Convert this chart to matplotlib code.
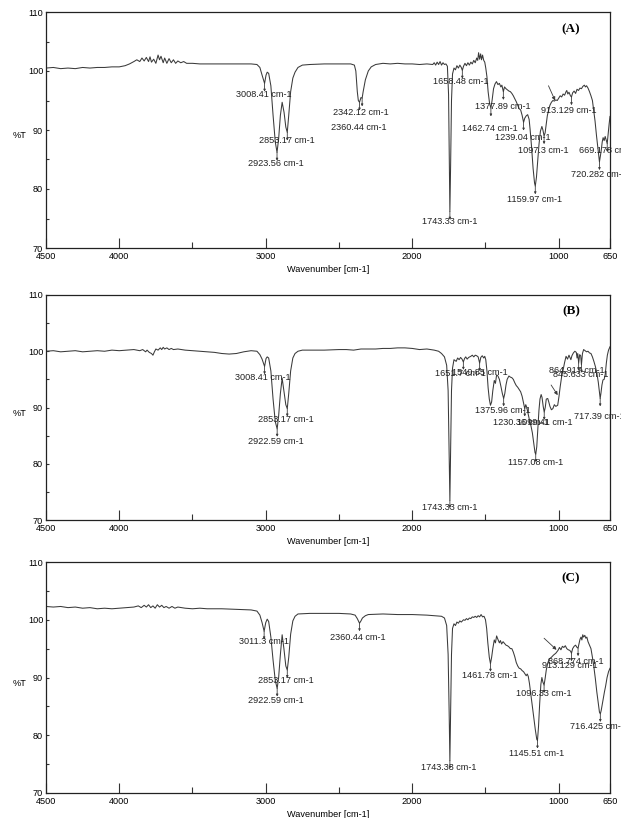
import matplotlib
matplotlib.use("Agg")
import matplotlib.pyplot as plt
from matplotlib.ticker import FixedLocator

# ---------------- data ----------------
wn_A = [4500,4450,4400,4350,4300,4250,4200,4150,4100,4050,4000,3960,3930,3900,3880,3860,3845,3830,3815,3800,
        3790,3780,3765,3750,3735,3725,3715,3700,3690,3675,3660,3645,3630,3615,3600,3580,3560,3540,3500,3450,
        3400,3300,3200,3100,3060,3040,3025,3008,2998,2990,2980,2965,2950,2935,2923,2912,2900,2888,2875,2863,
        2853,2843,2830,2815,2800,2780,2750,2700,2600,2500,2420,2395,2385,2375,2368,2360,2350,2342,2335,2320,
        2300,2280,2250,2200,2150,2100,2050,2000,1950,1900,1860,1850,1840,1830,1820,1810,1800,1790,1780,1770,
        1760,1752,1746,1743,1738,1732,1725,1715,1705,1695,1685,1675,1665,1658,1650,1640,1630,1620,1610,1600,
        1590,1580,1570,1560,1553,1547,1540,1533,1527,1520,1512,1505,1498,1490,1482,1472,1463,1455,1445,1435,
        1425,1415,1405,1395,1388,1378,1370,1360,1350,1340,1330,1320,1310,1300,1290,1280,1270,1260,1250,1240,
        1232,1222,1212,1202,1195,1185,1175,1165,1160,1152,1143,1135,1125,1115,1108,1100,1093,1085,1078,1070,
        1060,1050,1040,1030,1020,1010,1000,990,980,970,960,950,945,938,930,920,913,905,895,885,
        875,865,855,845,835,825,818,810,800,790,780,770,762,752,742,733,727,722,716,710,
        703,697,690,683,676,669,662,656,650]
T_A = [100.5,100.6,100.4,100.5,100.4,100.6,100.5,100.6,100.6,100.7,100.7,100.9,101.2,101.6,101.9,101.6,102.2,101.7,102.3,101.6,
       102.4,101.5,102.0,101.3,102.7,101.9,102.5,101.4,102.2,101.3,102.1,101.4,101.9,101.3,101.7,101.4,101.6,101.3,101.3,101.2,
       101.2,101.2,101.2,101.2,101.1,100.6,99.3,97.9,99.3,99.8,99.6,97.5,92.5,88.0,86.2,88.5,92.5,94.7,93.0,90.5,
       89.6,92.5,96.5,98.8,99.8,100.6,101.0,101.1,101.2,101.2,101.2,101.0,100.0,96.5,95.0,94.7,95.5,95.4,96.5,98.5,
       100.0,100.7,101.1,101.3,101.2,101.3,101.2,101.2,101.1,101.2,101.1,101.4,101.0,101.5,101.1,101.6,101.0,101.4,101.1,101.2,
       100.8,96.0,82.0,76.2,84.0,95.0,99.5,100.5,100.2,100.9,100.5,101.0,100.6,100.1,100.8,101.3,100.9,101.4,101.0,101.5,
       101.2,101.8,101.4,102.2,101.8,103.1,102.0,102.9,101.9,102.7,101.8,101.5,100.5,99.0,96.5,94.5,93.7,95.0,97.0,97.8,
       98.2,97.7,97.9,97.3,97.6,96.5,97.3,97.0,96.8,96.6,96.5,96.2,95.8,95.3,94.8,94.2,93.6,93.4,92.5,91.3,
       92.0,92.4,92.6,91.8,90.0,87.0,83.5,81.0,80.5,82.0,85.0,87.5,89.8,90.6,90.0,89.0,89.5,91.0,92.4,93.3,
       94.2,94.7,95.0,94.9,95.1,95.0,95.4,95.8,95.6,96.1,95.9,96.5,96.7,96.1,96.4,95.8,95.6,96.3,96.6,96.2,
       96.9,96.7,97.1,97.0,97.4,97.6,97.3,97.5,97.1,96.5,95.8,95.0,93.5,91.5,89.0,87.0,85.5,84.6,85.5,86.5,
       88.0,88.7,88.2,88.9,88.3,87.7,89.5,91.0,92.3]

wn_B = [4500,4450,4400,4350,4300,4250,4200,4150,4100,4050,4000,3950,3900,3860,3840,3820,3810,3795,3780,3770,
        3760,3750,3735,3720,3710,3700,3690,3675,3660,3645,3630,3600,3550,3500,3450,3400,3350,3300,3250,3200,
        3150,3100,3060,3040,3025,3008,2998,2990,2980,2965,2950,2935,2922,2912,2900,2888,2876,2863,2853,2843,
        2830,2815,2800,2780,2750,2700,2600,2500,2450,2400,2350,2300,2250,2200,2150,2100,2050,2000,1950,1900,
        1850,1820,1800,1780,1765,1755,1748,1743,1738,1732,1725,1715,1700,1690,1680,1670,1660,1651,1643,1635,
        1625,1615,1600,1590,1580,1570,1560,1550,1540,1532,1522,1512,1505,1498,1490,1482,1474,1466,1458,1450,
        1440,1432,1424,1415,1405,1395,1385,1376,1368,1360,1352,1340,1330,1320,1310,1300,1290,1280,1270,1260,
        1250,1240,1232,1225,1218,1210,1200,1190,1180,1170,1162,1157,1150,1143,1135,1128,1120,1114,1106,1099,
        1092,1085,1075,1068,1060,1050,1040,1030,1020,1007,998,990,980,970,960,950,940,930,917,910,
        900,890,880,875,870,864,857,850,845,838,830,820,810,800,790,780,770,760,750,740,
        730,722,717,712,705,698,690,682,675,668,660,650]
T_B = [100.0,100.1,99.9,100.0,100.1,99.9,100.0,100.1,100.0,100.2,100.1,100.2,100.3,100.1,100.3,99.9,100.2,99.8,99.6,99.3,
       99.9,100.4,100.2,100.6,100.3,100.7,100.4,100.6,100.3,100.5,100.3,100.4,100.2,100.1,100.0,99.9,99.8,99.6,99.5,99.6,
       99.9,100.1,100.0,99.4,98.6,97.3,98.7,99.0,98.8,96.5,91.5,87.5,86.2,88.5,92.5,95.2,93.0,90.5,89.8,92.5,
       96.5,98.8,99.6,100.0,100.2,100.2,100.2,100.3,100.3,100.2,100.4,100.4,100.4,100.5,100.5,100.6,100.6,100.5,100.3,100.4,
       100.2,100.0,99.6,99.0,97.5,93.0,82.0,73.5,82.0,93.0,97.0,98.5,98.2,98.8,98.5,98.9,98.6,98.1,98.7,99.0,
       98.6,98.9,99.1,99.3,99.0,99.3,99.2,99.0,97.9,98.9,99.2,98.8,99.1,98.5,96.5,93.5,91.5,90.4,91.0,93.0,
       94.8,94.3,95.8,95.6,95.0,93.8,92.5,91.6,92.5,94.0,95.0,95.6,95.4,95.3,95.0,94.4,93.9,93.6,93.2,92.8,
       92.0,90.8,89.8,90.5,90.0,89.0,87.8,86.8,85.5,83.5,82.0,81.7,83.0,86.0,89.5,91.5,92.3,91.8,90.2,89.2,
       90.0,91.5,91.6,91.0,90.2,89.6,89.8,90.5,90.2,90.4,92.0,93.7,95.5,96.7,98.0,99.1,98.6,99.3,98.5,99.2,
       99.7,100.0,99.8,98.8,99.6,97.9,99.4,99.2,97.6,99.6,100.3,100.1,99.9,100.0,99.7,99.6,99.0,98.2,97.3,96.2,
       94.5,92.8,91.6,92.5,94.0,94.9,95.0,96.0,97.9,99.3,100.2,100.8]

wn_C = [4500,4450,4400,4350,4300,4250,4200,4150,4100,4050,4000,3950,3900,3870,3850,3830,3815,3800,3785,3770,
        3755,3740,3725,3710,3695,3680,3660,3640,3620,3600,3550,3500,3450,3400,3300,3200,3100,3060,3040,3025,
        3011,3000,2990,2980,2965,2950,2935,2922,2912,2900,2888,2876,2863,2853,2843,2830,2815,2800,2780,2700,
        2600,2500,2420,2390,2375,2360,2350,2340,2320,2300,2200,2100,2000,1900,1850,1800,1780,1765,1755,1748,
        1743,1738,1732,1725,1715,1705,1695,1685,1675,1665,1650,1640,1630,1620,1610,1600,1590,1580,1570,1560,
        1550,1540,1530,1520,1510,1500,1492,1484,1474,1466,1458,1450,1440,1432,1424,1415,1405,1398,1390,1380,
        1370,1360,1350,1340,1330,1320,1310,1300,1290,1280,1270,1260,1250,1240,1230,1222,1215,1208,1200,1190,
        1180,1170,1160,1150,1145,1138,1130,1122,1115,1108,1100,1093,1085,1075,1065,1050,1035,1020,1005,995,
        985,975,965,955,945,935,925,918,913,905,895,885,875,868,862,855,848,842,836,830,
        822,815,808,800,790,780,770,760,750,740,730,722,716,710,702,695,688,680,670,660,
        650]
T_C = [102.3,102.2,102.3,102.1,102.2,102.0,102.1,101.9,102.0,101.9,102.0,102.1,102.2,102.4,102.1,102.5,102.2,102.6,102.1,102.4,
       102.0,102.6,102.2,102.5,102.1,102.3,102.0,102.3,102.0,102.2,102.0,101.9,102.0,101.9,101.9,101.8,101.7,101.5,100.8,99.5,
       98.0,99.5,100.1,99.7,97.0,93.0,89.5,88.1,90.0,94.0,97.4,95.0,92.0,91.3,93.5,97.5,99.8,100.6,101.0,101.1,
       101.1,101.1,101.0,100.8,100.2,99.4,99.8,100.3,100.7,100.9,101.0,100.9,100.9,100.8,100.7,100.6,100.3,99.0,94.0,84.0,
       75.6,84.0,94.0,98.5,99.3,99.0,99.6,99.4,99.8,99.6,100.0,99.9,100.2,100.0,100.3,100.2,100.5,100.4,100.6,100.4,
       100.7,100.5,100.9,100.5,100.6,100.0,98.5,96.0,93.5,92.4,93.5,95.0,96.5,96.0,97.2,96.6,96.0,96.4,95.8,96.2,
       95.9,95.6,95.5,95.3,95.0,95.0,94.4,93.6,92.6,92.0,91.6,91.5,91.2,91.0,90.6,90.3,90.6,90.2,89.0,87.0,
       85.0,83.0,81.0,79.3,79.1,81.5,85.5,88.8,90.0,89.2,88.7,89.8,91.3,92.5,93.2,93.5,93.9,94.2,94.7,95.2,
       94.8,95.4,95.2,95.5,95.0,94.8,94.7,94.5,94.2,95.0,95.4,95.6,95.2,95.1,95.8,96.6,97.0,96.5,97.4,97.0,
       97.3,96.8,97.0,96.2,95.6,95.0,93.5,91.8,89.8,87.5,85.5,84.0,83.7,84.3,85.5,86.5,87.5,88.5,90.0,91.0,
       91.6]

# peak annotations: (label, marker wavenumber, marker %T, label x, label y, alignment)
labels_A = [("3008.41 cm-1", 3008, 97.9, 3015, 96.1, "center"),
            ("2853.17 cm-1", 2853, 89.6, 2859, 88.3, "center"),
            ("2923.56 cm-1", 2923, 86.2, 2930, 84.3, "center"),
            ("2342.12 cm-1", 2342, 95.4, 2350, 93.0, "center"),
            ("2360.44 cm-1", 2360, 94.7, 2366, 90.5, "center"),
            ("1658.48 cm-1", 1658, 100.1, 1665, 98.2, "center"),
            ("1743.33 cm-1", 1743, 76.2, 1747, 74.5, "center"),
            ("1377.89 cm-1", 1378, 96.5, 1384, 94.0, "center"),
            ("1462.74 cm-1", 1463, 93.7, 1471, 90.3, "center"),
            ("1239.04 cm-1", 1240, 91.3, 1246, 88.7, "center"),
            ("1097.3 cm-1", 1100, 89.0, 1103, 86.5, "center"),
            ("1159.97 cm-1", 1160, 80.5, 1163, 78.2, "center"),
            ("913.129 cm-1", 913, 95.6, 931, 93.3, "center"),
            ("669.178 cm-1", 669, 87.7, 862, 86.5, "left"),
            ("720.282 cm-1", 722, 84.6, 913, 82.5, "left")]
labels_B = [("3008.41 cm-1", 3008, 97.3, 3022, 95.4, "center"),
            ("2853.17 cm-1", 2853, 89.8, 2861, 87.9, "center"),
            ("2922.59 cm-1", 2922, 86.2, 2929, 84.0, "center"),
            ("1651.7 cm-1", 1651, 98.1, 1668, 96.0, "center"),
            ("1540.85 cm-1", 1540, 97.9, 1538, 96.2, "center"),
            ("1743.33 cm-1", 1743, 73.5, 1743, 72.2, "center"),
            ("1375.96 cm-1", 1376, 91.6, 1383, 89.4, "center"),
            ("1230.36 cm-1", 1232, 89.8, 1258, 87.4, "center"),
            ("1099.41 cm-1", 1099, 89.2, 1098, 87.4, "center"),
            ("1157.08 cm-1", 1157, 81.7, 1160, 80.2, "center"),
            ("864.917 cm-1", 864, 97.9, 877, 96.6, "center"),
            ("845.633 cm-1", 845, 97.6, 852, 95.8, "center"),
            ("717.39 cm-1", 717, 91.6, 893, 88.4, "left")]
labels_C = [("3011.3 cm-1", 3011, 98.0, 3011, 96.2, "center"),
            ("2853.17 cm-1", 2853, 91.3, 2864, 89.4, "center"),
            ("2922.59 cm-1", 2922, 88.1, 2934, 86.0, "center"),
            ("2360.44 cm-1", 2360, 99.4, 2369, 97.0, "center"),
            ("1743.33 cm-1", 1743, 75.6, 1750, 74.5, "center"),
            ("1461.78 cm-1", 1466, 92.4, 1469, 90.4, "center"),
            ("1096.33 cm-1", 1100, 88.7, 1101, 87.2, "center"),
            ("1145.51 cm-1", 1145, 79.1, 1150, 76.9, "center"),
            ("913.129 cm-1", 913, 94.2, 924, 92.0, "center"),
            ("868.774 cm-1", 868, 95.1, 880, 92.8, "center"),
            ("716.425 cm-1", 716, 83.7, 920, 81.5, "left")]
# arrows (from, to)
arrow_A = ((1070, 97.5), (1025, 95.0))
arrow_B = ((1052, 94.0), (1007, 92.2))
arrow_C = ((1100, 96.8), (1015, 94.8))

panels = [("(A)", wn_A, T_A, labels_A, arrow_A),
          ("(B)", wn_B, T_B, labels_B, arrow_B),
          ("(C)", wn_C, T_C, labels_C, arrow_C)]

x_ticks = [4500, 4000, 3000, 2000, 1000, 650]
x_minor = [3500, 2500, 1500]
y_ticks = [70, 80, 90, 100, 110]
y_minor = [75, 85, 95, 105]

# ---------------- plot ----------------
FONT = ["Liberation Sans", "DejaVu Sans"]
FS = 6.6
plt.rcParams['font.family'] = FONT
fig = plt.figure(figsize=(6.21, 8.18), dpi=100)
W, H = 621, 818
left, right = 46, 610
boxes = [(12, 248), (295, 520), (562, 793)]
line_col = "#3a3a3a"

for (title, wn, T, labels, arrow), (top, bot) in zip(panels, boxes):
    ax = fig.add_axes([left / W, 1 - bot / H, (right - left) / W, (bot - top) / H])
    ax.plot(wn, T, color=line_col, lw=0.75)
    ax.set_xlim(4500, 650)
    ax.set_ylim(70, 110)
    ax.xaxis.set_major_locator(FixedLocator(x_ticks))
    ax.xaxis.set_minor_locator(FixedLocator(x_minor))
    ax.yaxis.set_major_locator(FixedLocator(y_ticks))
    ax.yaxis.set_minor_locator(FixedLocator(y_minor))
    ax.set_xticklabels([str(v) for v in x_ticks])
    ax.tick_params(axis='x', which='major', direction='in', length=7, width=0.8,
                   labelsize=FS, pad=3, color='#333333')
    ax.tick_params(axis='x', which='minor', direction='in', length=4, width=0.8, color='#333333')
    ax.tick_params(axis='y', which='major', direction='in', length=2.5, width=0.8,
                   labelsize=FS, pad=2, color='#333333')
    ax.tick_params(axis='y', which='minor', direction='in', length=2, width=0.8, color='#333333')
    for s in ax.spines.values():
        s.set_linewidth(0.9)
        s.set_color('#222222')
    ax.set_xlabel("Wavenumber [cm-1]", fontsize=FS, labelpad=3)
    ax.set_ylabel("%T", fontsize=FS, rotation=0, va='center', ha='center')
    ax.yaxis.set_label_coords(-0.046, 0.475)
    for txt, mx, my, lx, ly, ha in labels:
        ax.annotate("", xy=(mx, my - 1.4), xytext=(mx, my),
                    arrowprops=dict(arrowstyle='-|>', lw=0.6, color=line_col,
                                    mutation_scale=3, shrinkA=0, shrinkB=0))
        ax.text(lx, ly, txt, fontsize=FS, ha=ha, va='center',
                color='#222222', clip_on=False)
    ax.annotate("", xy=arrow[1], xytext=arrow[0],
                arrowprops=dict(arrowstyle='-|>', lw=0.6, color=line_col,
                                mutation_scale=5, shrinkA=0, shrinkB=0))
    ax.text(0.931, 0.928, title, transform=ax.transAxes, fontsize=9.5,
            fontweight='bold', family=['Liberation Serif', 'DejaVu Serif'],
            ha='center', va='center')

fig.savefig("out.png", dpi=100)
